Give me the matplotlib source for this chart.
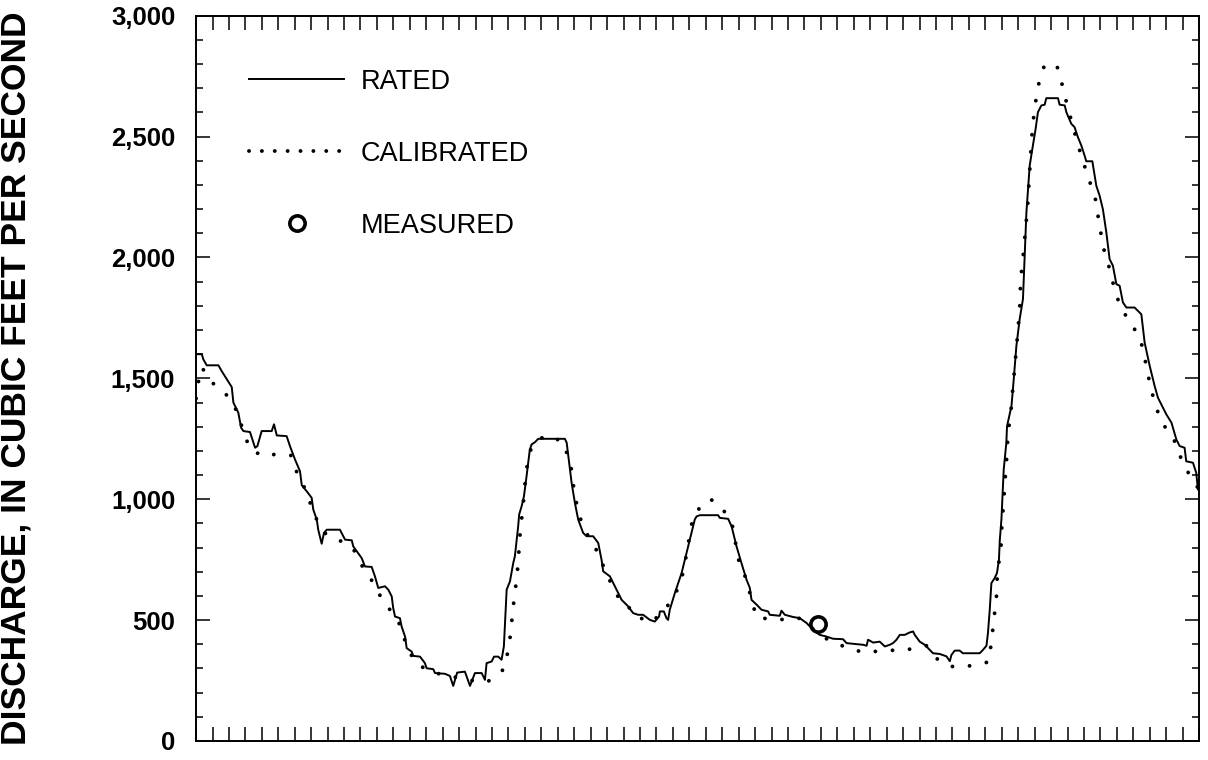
import matplotlib
matplotlib.use("Agg")
import matplotlib.pyplot as plt
from matplotlib.lines import Line2D
from matplotlib.ticker import MultipleLocator, FuncFormatter

plt.rcParams['font.family'] = ['Liberation Sans', 'DejaVu Sans']

# rated discharge (day, cubic feet per second)
rated_day = [0.0, 0.35, 0.44, 0.65, 1.36, 1.56, 2.17, 2.27, 2.57, 2.74, 2.88, 3.28, 3.59, 3.73,
             3.99, 4.60, 4.74, 4.91, 5.51, 5.71, 6.02, 6.32, 6.43, 6.73, 7.03, 7.13, 7.34, 7.43,
             7.64, 7.78, 7.95, 8.75, 9.06, 9.47, 9.56, 10.07, 10.27, 10.68, 10.88, 11.08, 11.49,
             11.69, 11.90, 11.99, 12.10, 12.40, 12.50, 12.71, 12.81, 13.11, 13.21, 13.62, 13.92,
             14.02, 14.43, 14.53, 15.14, 15.44, 15.64, 15.88, 16.35, 16.66, 16.96, 17.37, 17.57,
             17.67, 17.98, 18.12, 18.38, 18.58, 18.72, 18.89, 19.09, 19.29, 19.39, 19.59, 19.65,
             19.80, 19.94, 20.10, 20.30, 20.41, 20.61, 20.81, 22.43, 22.54, 22.63, 22.84, 23.04,
             23.24, 23.54, 23.75, 24.15, 24.46, 24.66, 24.76, 25.17, 25.47, 25.88, 26.28, 26.58,
             26.89, 27.19, 27.60, 27.90, 28.16, 28.21, 28.45, 28.61, 28.71, 28.81, 29.12, 29.53,
             29.73, 29.93, 30.13, 30.33, 30.44, 30.64, 31.75, 31.85, 32.36, 32.57, 32.87, 33.17,
             33.48, 33.68, 33.78, 34.09, 34.39, 34.79, 34.89, 35.50, 35.60, 35.81, 36.31, 36.72,
             37.13, 37.63, 37.93, 38.34, 38.74, 39.35, 39.56, 39.96, 40.57, 40.78, 40.87, 41.18,
             41.58, 41.89, 42.19, 42.39, 42.60, 42.80, 43.10, 43.40, 43.61, 43.71, 44.01, 44.32,
             44.62, 44.82, 45.23, 45.64, 45.84, 45.94, 46.14, 46.44, 46.64, 47.66, 47.86, 48.07,
             48.16, 48.27, 48.37, 48.57, 48.71, 48.83, 48.88, 48.98, 49.08, 49.12, 49.28, 49.32,
             49.59, 49.68, 49.89, 50.09, 50.29, 50.50, 50.70, 50.86, 51.06, 51.20, 51.41, 51.61,
             51.71, 52.42, 52.52, 52.83, 52.93, 53.23, 53.43, 53.63, 53.84, 54.04, 54.14, 54.51,
             54.75, 54.95, 55.15, 55.36, 55.56, 55.76, 55.97, 56.17, 56.37, 56.58, 57.08, 57.49,
             57.69, 58.00, 58.30, 58.50, 59.01, 59.32, 59.62, 59.82, 60.12, 60.22, 60.63, 60.83,
             60.93, 61.0]
rated_q = [1600, 1600, 1579, 1554, 1554, 1530, 1464, 1400, 1358, 1296, 1282, 1278, 1213, 1220,
           1282, 1282, 1310, 1264, 1261, 1220, 1164, 1116, 1058, 1033, 1006, 957, 916, 874,
           816, 861, 874, 874, 833, 830, 805, 757, 722, 720, 681, 633, 640,
           626, 598, 550, 515, 508, 474, 432, 384, 370, 352, 349, 322,
           301, 297, 281, 278, 269, 228, 283, 287, 228, 281, 281, 253,
           322, 329, 349, 349, 336, 391, 626, 660, 736, 764, 888, 937,
           971, 1012, 1095, 1206, 1227, 1236, 1250, 1250, 1234, 1185, 1068, 985,
           916, 861, 847, 847, 819, 750, 702, 681, 640, 584, 557, 529,
           522, 522, 501, 494, 515, 536, 536, 508, 501, 543, 612, 695,
           750, 805, 861, 916, 929, 934, 934, 923, 919, 888, 805, 736,
           667, 633, 584, 564, 543, 536, 522, 518, 539, 522, 513, 508,
           488, 453, 439, 432, 423, 421, 405, 402, 398, 394, 419, 407,
           411, 391, 398, 405, 419, 439, 439, 449, 453, 439, 411, 398,
           377, 363, 360, 350, 330, 356, 374, 374, 363, 363, 377, 394,
           446, 543, 653, 674, 695, 750, 830, 916, 1068, 1123, 1234, 1302,
           1385, 1455, 1634, 1745, 1828, 2187, 2380, 2449, 2532, 2601, 2629, 2632,
           2659, 2659, 2632, 2629, 2601, 2553, 2539, 2498, 2463, 2421, 2398, 2398,
           2297, 2256, 2200, 2104, 1993, 1966, 1890, 1883, 1814, 1793, 1793, 1765,
           1648, 1551, 1468, 1420, 1351, 1317, 1247, 1220, 1213, 1157, 1151, 1109,
           1040, 1040]

# calibrated discharge
cal_day = [0.0, 0.08, 0.35, 0.99, 1.96, 2.57, 2.88, 3.34, 4.24, 4.70, 5.78, 6.16, 6.71, 7.09,
           7.23, 7.90, 8.65, 9.56, 9.93, 10.58, 11.12, 11.79, 12.44, 12.84, 13.45, 14.53, 15.20,
           16.21, 17.26, 17.81, 18.72, 18.98, 19.15, 19.25, 19.39, 19.53, 19.62, 19.70, 19.82,
           19.94, 20.04, 20.14, 20.41, 21.22, 22.29, 22.78, 22.94, 23.14, 23.45, 23.95, 24.56,
           24.92, 25.31, 25.82, 26.24, 26.69, 27.70, 28.61, 29.22, 29.62, 29.83, 30.03, 30.23,
           30.90, 31.30, 32.02, 32.60, 32.81, 33.03, 33.48, 33.78, 34.09, 35.34, 36.66, 38.24,
           39.25, 40.57, 41.88, 43.20, 44.42, 45.12, 45.94, 47.11, 48.21, 48.40, 48.52, 48.67,
           48.71, 48.83, 48.98, 49.01, 49.12, 49.18, 49.28, 49.34, 49.44, 49.59, 49.68, 49.79,
           49.89, 49.99, 50.09, 50.13, 50.21, 50.33, 50.50, 50.60, 50.66, 50.74, 50.80, 50.90,
           51.05, 51.25, 51.59, 51.98, 52.38, 52.69, 52.97, 53.33, 53.63, 53.98, 54.35, 54.71,
           54.89, 55.09, 55.26, 55.62, 55.87, 56.27, 57.08, 57.59, 57.80, 58.05, 58.34, 58.77,
           59.45, 59.78, 60.29, 60.93]
cal_q = [1417, 1468, 1545, 1482, 1425, 1354, 1275, 1202, 1176, 1185, 1181, 1105, 1033, 954,
         929, 855, 833, 796, 741, 677, 609, 543, 477, 384, 315, 283, 269,
         260, 242, 249, 297, 374, 453, 533, 612, 691, 771, 851, 929,
         1010, 1091, 1141, 1220, 1264, 1240, 1148, 1061, 982, 902, 833, 767,
         692, 646, 575, 561, 518, 490, 552, 619, 695, 774, 854, 929,
         988, 1000, 961, 898, 819, 739, 667, 584, 511, 501, 508, 426,
         395, 366, 374, 377, 394, 336, 308, 311, 327, 426, 504, 584,
         663, 743, 822, 905, 985, 1064, 1144, 1224, 1302, 1385, 1466, 1545,
         1623, 1703, 1783, 1869, 1949, 2028, 2156, 2235, 2318, 2398, 2477, 2557,
         2640, 2718, 2794, 2805, 2787, 2711, 2632, 2543, 2467, 2390, 2314, 2238,
         2156, 2076, 2018, 1941, 1862, 1789, 1703, 1627, 1545, 1466, 1388, 1314,
         1251, 1188, 1116, 1047]

# measured discharge
meas_day = [37.81]
meas_q = [485]

fig = plt.figure(figsize=(12.08, 7.6), dpi=100)
ax = fig.add_axes([0.1623, 0.025, 0.8303, 0.9543])

ax.plot(rated_day, rated_q, color='black', lw=1.4)
dot_style = (0, (0.01, 4.4))
ax.plot(cal_day, cal_q, color='black', lw=2.8, linestyle=dot_style,
        dash_capstyle='round')
ax.plot(meas_day, meas_q, linestyle='none', marker='o', markersize=11,
        markerfacecolor='none', markeredgecolor='black', markeredgewidth=2.6)

ax.set_xlim(0, 61)
ax.set_ylim(0, 3000)

ax.xaxis.set_major_locator(MultipleLocator(1))
ax.yaxis.set_major_locator(MultipleLocator(500))
ax.yaxis.set_minor_locator(MultipleLocator(100))
ax.yaxis.set_major_formatter(FuncFormatter(lambda v, p: f'{v:,.0f}'))
ax.tick_params(axis='x', which='both', direction='in', top=True, bottom=True,
               length=10, width=1.1, labelbottom=False)
ax.tick_params(axis='y', which='major', direction='in', left=True, right=True,
               length=10, width=1.1, pad=15, labelsize=18.5)
ax.tick_params(axis='y', which='minor', direction='in', left=True, right=True,
               length=5, width=1.1)
for lab in ax.get_yticklabels():
    lab.set_fontweight('bold')
for sp in ax.spines.values():
    sp.set_linewidth(1.4)

fig.text(16 / 1208, 0.503, 'DISCHARGE, IN CUBIC FEET PER SECOND', rotation=90,
         ha='center', va='center', fontsize=25.5, fontweight='bold')

handles = [
    Line2D([], [], color='black', lw=1.4),
    Line2D([], [], color='black', lw=2.8, linestyle=(0, (0.01, 3.3)), dash_capstyle='round'),
    Line2D([], [], linestyle='none', marker='o', markersize=11, markerfacecolor='none',
           markeredgecolor='black', markeredgewidth=2.6),
]
ax.legend(handles, ['RATED', 'CALIBRATED', 'MEASURED'], loc='upper left',
          bbox_to_anchor=(0.053, 0.927), frameon=False, fontsize=19.5,
          handlelength=3.5, handletextpad=0.63, labelspacing=1.7, borderpad=0,
          borderaxespad=0)

fig.savefig('out.png', dpi=100)
